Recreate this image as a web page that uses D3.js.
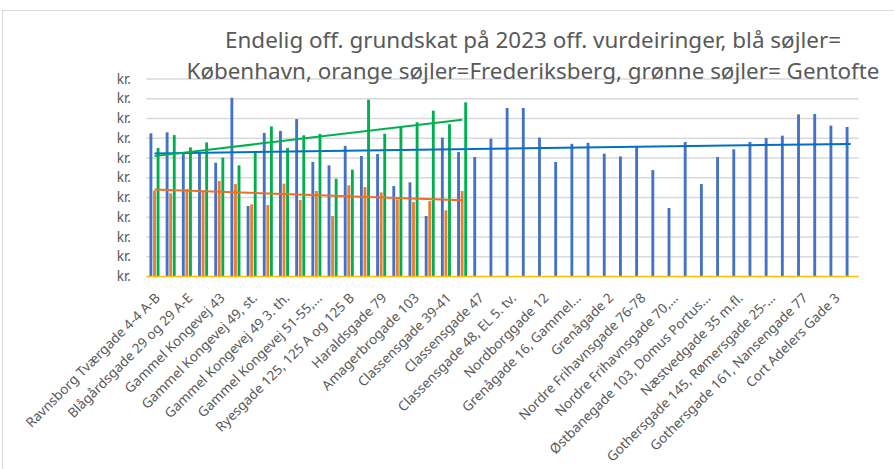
<!DOCTYPE html>
<html>
<head>
<meta charset="utf-8">
<script src="https://cdn.jsdelivr.net/npm/d3@7"></script>
<style>
  html, body { margin: 0; padding: 0; background: #fff; }
  #chart { width: 894px; height: 469px; }
  text { font-family: "Noto Sans", "Open Sans", sans-serif; fill: #595959; }
</style>
</head>
<body>
<div id="chart"></div>
<script>
// Chart data (y axis only shows "kr.")
const tickLabels = [
  'Ravnsborg Tværgade 4-4 A-B', 'Blågårdsgade 29 og 29 A-E', 'Gammel Kongevej 43',
  'Gammel Kongevej 49, st.', 'Gammel Kongevej 49 3. th.', 'Gammel Kongevej 51-55,...',
  'Ryesgade 125, 125 A og 125 B', 'Haraldsgade 79', 'Amagerbrogade 103',
  'Classensgade 39-41', 'Classensgade 47', 'Classensgade 48, EL 5. tv.',
  'Nordborggade 12', 'Grenågade 16, Gammel...', 'Grenågade 2',
  'Nordre Frihavnsgade 76-78', 'Nordre Frihavnsgade 70,...', 'Østbanegade 103, Domus Portus...',
  'Næstvedgade 35 m.fl.', 'Gothersgade 145, Rømersgade 25-...', 'Gothersgade 161, Nansengade 77',
  'Cort Adelers Gade 3'
];
// only every second category label is shown on the axis
const categories = d3.range(44);

const blueValues = [72.5, 73.0, 62.0, 62.7, 57.6, 90.5, 35.7, 72.7, 73.7, 79.7,
  58.0, 56.3, 66.1, 61.0, 62.0, 45.8, 47.7, 30.6, 70.3, 63.0,
  60.5, 69.8, 85.3, 85.3, 70.3, 58.0, 67.2, 67.7, 62.2, 60.8,
  65.6, 53.9, 34.7, 68.1, 46.8, 60.5, 64.4, 68.1, 70.1, 71.3,
  82.1, 82.3, 76.4, 75.7];
const orangeValues = [43.5, 42.1, 44.3, 43.0, 48.4, 46.8, 36.5, 36.2, 47.0, 38.7,
  43.3, 30.6, 46.2, 45.3, 42.6, 39.1, 37.7, 38.2, 33.5, 43.3];
const greenValues = [65.1, 71.6, 65.4, 67.9, 60.2, 56.3, 63.2, 76.0, 65.1, 71.5,
  72.2, 49.5, 54.1, 89.5, 72.3, 75.9, 78.1, 84.0, 77.1, 88.2];

const yTicks = d3.range(0, 101, 10);
const yTickLabels = yTicks.map(() => 'kr.');

const titleLines = [
  'Endelig off. grundskat på 2023 off. vurdeiringer, blå søjler=',
  'København, orange søjler=Frederiksberg, grønne søjler= Gentofte'
];

const series = [
  { key: 'blue', values: blueValues, color: '#4472C4', trend: '#0070C0' },
  { key: 'orange', values: orangeValues, color: '#ED7D31', trend: '#E8702A' },
  { key: 'green', values: greenValues, color: '#00B050', trend: '#00B050' }
];

const width = 894;
const height = 469;
const margin = { top: 79, right: 35, bottom: 192.5, left: 146.4 };

const svg = d3.select('#chart')
  .append('svg')
  .attr('width', width)
  .attr('height', height);

// chart frame
svg.append('rect')
  .attr('x', 2.5)
  .attr('y', 10.5)
  .attr('width', 1000)
  .attr('height', 1000)
  .attr('fill', '#fff')
  .attr('stroke', '#d9d9d9')
  .attr('stroke-width', 1);

const x = d3.scaleBand()
  .domain(categories)
  .range([margin.left, margin.left + 44 * 16.19]);

const xSub = d3.scaleBand()
  .domain(series.map(s => s.key))
  .range([-5, 5])
  .paddingInner(0.2);

const y = d3.scaleLinear()
  .domain([0, 100])
  .range([height - margin.bottom, margin.top]);

const cx = i => x(i) + x.bandwidth() / 2;

// gridlines
svg.append('g')
  .selectAll('line')
  .data(yTicks.slice(1))
  .join('line')
  .attr('x1', x.range()[0])
  .attr('x2', x.range()[1])
  .attr('y1', d => y(d))
  .attr('y2', d => y(d))
  .attr('stroke', '#d9d9d9')
  .attr('stroke-width', 1.3);

// y labels
svg.append('g')
  .selectAll('text')
  .data(yTicks)
  .join('text')
  .attr('x', 131)
  .attr('y', d => y(d))
  .attr('dy', '0.35em')
  .attr('text-anchor', 'end')
  .style('font-size', '13.5px')
  .text((d, i) => yTickLabels[i]);

// bars
series.forEach(s => {
  svg.append('g')
    .selectAll('rect')
    .data(s.values.map((v, i) => ({ i, v })).filter(d => d.v != null))
    .join('rect')
    .attr('x', d => cx(d.i) + xSub(s.key))
    .attr('width', xSub.bandwidth())
    .attr('y', d => y(d.v))
    .attr('height', d => y(0) - y(d.v))
    .attr('fill', s.color);
});

// x axis line
svg.append('line')
  .attr('x1', x.range()[0])
  .attr('x2', x.range()[1])
  .attr('y1', y(0))
  .attr('y2', y(0))
  .attr('stroke', '#FFC000')
  .attr('stroke-width', 1.6);

// linear trendlines
series.forEach(s => {
  const n = s.values.length;
  const xs = d3.range(1, n + 1);
  const mx = d3.mean(xs);
  const my = d3.mean(s.values);
  const slope = d3.sum(xs, (xi, k) => (xi - mx) * (s.values[k] - my)) / d3.sum(xs, xi => (xi - mx) ** 2);
  const icpt = my - slope * mx;
  const pts = [1, n].map(xi => [cx(xi - 1), y(icpt + slope * xi)]);
  svg.append('path')
    .attr('d', d3.line()(pts))
    .attr('fill', 'none')
    .attr('stroke', s.trend)
    .attr('stroke-width', 2);
});

// x labels (every second category)
svg.append('g')
  .selectAll('text')
  .data(tickLabels)
  .join('text')
  .attr('transform', (d, k) => `translate(${cx(k * 2) + 3},${y(0) + 19}) rotate(-45)`)
  .attr('text-anchor', 'end')
  .attr('dy', '0.35em')
  .style('font-size', '13.5px')
  .text(d => d);

// title
const titleWidths = [616, 693];
svg.append('g')
  .selectAll('text')
  .data(titleLines)
  .join('text')
  .attr('x', 533)
  .attr('y', (d, i) => 48 + i * 31)
  .attr('text-anchor', 'middle')
  .attr('textLength', (d, i) => titleWidths[i])
  .attr('lengthAdjust', 'spacingAndGlyphs')
  .style('font-size', '22px')
  .text(d => d);
</script>
</body>
</html>
